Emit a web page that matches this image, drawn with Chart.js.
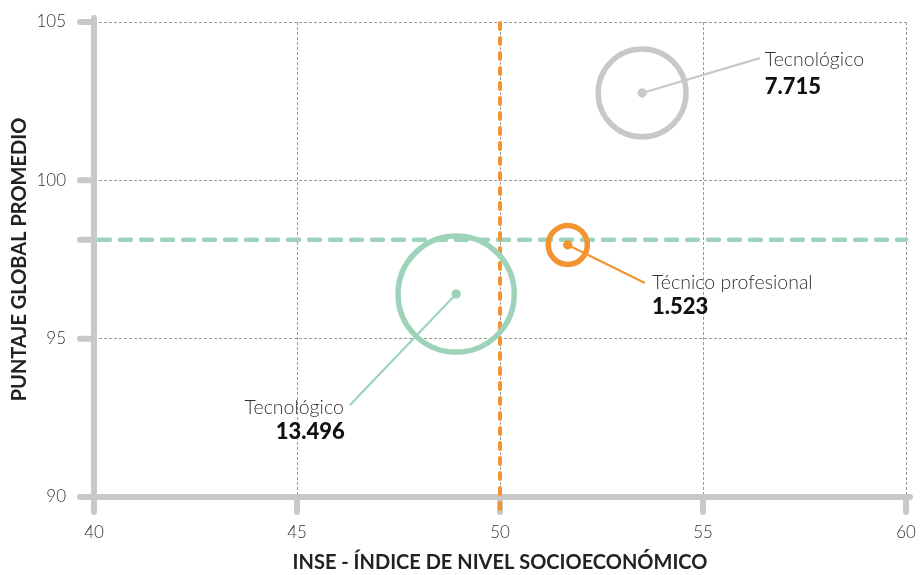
<!DOCTYPE html>
<html><head><meta charset="utf-8">
<script src="https://cdn.jsdelivr.net/npm/chart.js@4/dist/chart.umd.min.js"></script>
<style>html,body{margin:0;padding:0;background:#fff}canvas{display:block}</style>
</head><body>
<canvas id="c" width="921" height="575"></canvas>
<script>
const categories = ['Tecnológico', 'Técnico profesional', 'Tecnológico'];
const inse = [48.92, 51.67, 53.5];
const puntaje = [96.41, 97.96, 102.76];
const matricula = [13496, 1523, 7715];
const matriculaText = ['13.496', '1.523', '7.715'];
const xTicks = [40, 45, 50, 55, 60];
const yTicks = [90, 95, 100, 105];
const refInse = 50;
const refPuntaje = 98.12;
const labelAnchorX = [46.3, 53.57, 56.4];
const labelAnchorY = [92.9, 96.76, 103.86];

const colors = ['#9dd3b9', '#f39432', '#c8c8c8'];
const textOffsets = [
  {align: 'right', dx1: -6, dy1: 3, dx2: -5, dy2: 27},
  {align: 'left', dx1: 7, dy1: 0, dx2: 7, dy2: 24},
  {align: 'left', dx1: 5, dy1: 2, dx2: 5, dy2: 29}
];
const FONT = 'Lato';

const decor = {
  id: 'decor',
  beforeDatasetsDraw(chart) {
    const {ctx, chartArea: a, scales: {x, y}} = chart;
    ctx.save();
    ctx.lineCap = 'round';
    ctx.strokeStyle = '#c8c8c8';
    ctx.lineWidth = 6;
    ctx.beginPath();
    ctx.moveTo(a.left, a.top - 4); ctx.lineTo(a.left, a.bottom + 15);
    ctx.moveTo(a.left - 14, a.bottom); ctx.lineTo(a.right + 4, a.bottom);
    yTicks.concat([refPuntaje]).forEach(v => {
      const py = y.getPixelForValue(v);
      ctx.moveTo(a.left - 14, py); ctx.lineTo(a.left, py);
    });
    xTicks.forEach(v => {
      const px = x.getPixelForValue(v);
      ctx.moveTo(px, a.bottom); ctx.lineTo(px, a.bottom + 15);
    });
    ctx.stroke();
    // reference lines
    const py = y.getPixelForValue(refPuntaje);
    ctx.lineWidth = 4.5; ctx.setLineDash([11, 10]); ctx.strokeStyle = colors[0];
    ctx.beginPath(); ctx.moveTo(a.left + 5, py); ctx.lineTo(a.right, py); ctx.stroke();
    const px = x.getPixelForValue(refInse);
    ctx.lineWidth = 4; ctx.setLineDash([6, 9]); ctx.strokeStyle = colors[1];
    ctx.beginPath(); ctx.moveTo(px, a.top + 1); ctx.lineTo(px, a.bottom + 15); ctx.stroke();
    ctx.restore();
  },
  afterDatasetsDraw(chart) {
    const {ctx, scales: {x, y}} = chart;
    ctx.save();
    categories.forEach((cat, i) => {
      const cx = x.getPixelForValue(inse[i]), cy = y.getPixelForValue(puntaje[i]);
      const ax = x.getPixelForValue(labelAnchorX[i]), ay = y.getPixelForValue(labelAnchorY[i]);
      ctx.strokeStyle = colors[i];
      ctx.lineWidth = 2.2;
      ctx.lineCap = 'butt';
      ctx.beginPath(); ctx.moveTo(cx, cy); ctx.lineTo(ax, ay); ctx.stroke();
      ctx.fillStyle = colors[i];
      ctx.beginPath(); ctx.arc(cx, cy, 4.5, 0, Math.PI * 2); ctx.fill();
      const o = textOffsets[i];
      ctx.textAlign = o.align;
      ctx.textBaseline = 'middle';
      ctx.fillStyle = '#333';
      ctx.font = '300 19.5px ' + FONT;
      ctx.fillText(cat, ax + o.dx1, ay + o.dy1);
      ctx.fillStyle = '#111';
      ctx.font = '900 22px ' + FONT;
      ctx.fillText(matriculaText[i], ax + o.dx2, ay + o.dy2);
    });
    ctx.restore();
  }
};

new Chart(document.getElementById('c'), {
  type: 'bubble',
  data: {
    datasets: [
      {
        data: inse.map((v, i) => ({x: v, y: puntaje[i], r: 0.5 * Math.sqrt(matricula[i])})),
        backgroundColor: 'rgba(0,0,0,0)',
        borderColor: colors,
        borderWidth: 5.5,
        hoverBorderWidth: 5.5,
        clip: false
      },
      {
        data: inse.map((v, i) => ({x: v, y: puntaje[i], r: 4.5})),
        backgroundColor: colors,
        borderWidth: 0,
        clip: false
      }
    ]
  },
  options: {
    responsive: false,
    animation: false,
    devicePixelRatio: 1,
    events: [],
    layout: {autoPadding: false, padding: {top: 22, right: 15, left: 0, bottom: 0}},
    plugins: {legend: {display: false}, tooltip: {enabled: false}},
    scales: {
      x: {
        type: 'linear', min: 40, max: 60,
        afterFit: s => { s.height = 78; s.paddingRight = 0; s.paddingLeft = 0; },
        afterBuildTicks: s => { s.ticks = xTicks.map(v => ({value: v})); },
        grid: {color: '#9a9a9a', lineWidth: 1, drawTicks: true, tickLength: 16, tickColor: 'rgba(0,0,0,0)'},
        border: {display: false, dash: [3, 2]},
        ticks: {padding: 9, color: '#333', font: {family: FONT, weight: '300', size: 17}, maxRotation: 0},
        title: {display: true, text: 'INSE - ÍNDICE DE NIVEL SOCIOECONÓMICO', color: '#222',
          font: {family: FONT, weight: 'bold', size: 20}, padding: {top: 0, bottom: 0}}
      },
      y: {
        type: 'linear', min: 90, max: 105,
        afterFit: s => { s.width = 94; s.paddingTop = 0; s.paddingBottom = 0; },
        afterBuildTicks: s => { s.ticks = yTicks.map(v => ({value: v})); },
        grid: {color: '#9a9a9a', lineWidth: 1, drawTicks: true, tickLength: 16, tickColor: 'rgba(0,0,0,0)'},
        border: {display: false, dash: [3, 2]},
        ticks: {padding: 12, color: '#333', font: {family: FONT, weight: '300', size: 17}},
        title: {display: true, text: 'PUNTAJE GLOBAL PROMEDIO', color: '#222',
          font: {family: FONT, weight: 'bold', size: 20}, padding: {top: 8, bottom: 0}}
      }
    }
  },
  plugins: [decor]
});
</script>
</body></html>
